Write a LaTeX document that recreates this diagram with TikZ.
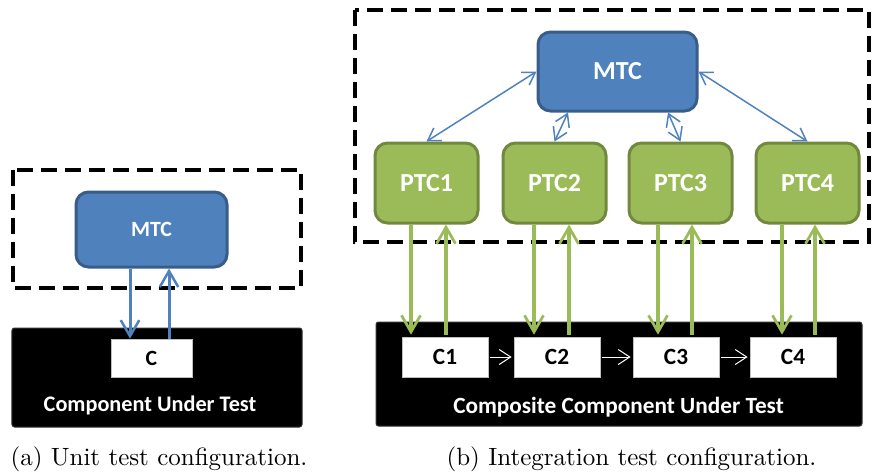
\documentclass[tikz,border=0pt]{standalone}
\usepackage{fontspec}
\newfontfamily\carl{Carlito}
\usetikzlibrary{arrows.meta,calc}
\definecolor{mtcfill}{HTML}{4F81BD}
\definecolor{mtcline}{HTML}{385D8A}
\definecolor{ptcfill}{HTML}{9BBB59}
\definecolor{ptcline}{HTML}{71893F}
\begin{document}
\begin{tikzpicture}[x=0.4pt,y=-0.4pt,
  dashbox/.style={draw=black, line width=1.6pt, dash pattern=on 6.4pt off 3.2pt},
  mtcbox/.style={draw=mtcline, fill=mtcfill, line width=1.2pt, rounded corners=5pt,
     text=white, inner sep=0pt},
  ptcbox/.style={draw=ptcline, fill=ptcfill, line width=1.2pt, rounded corners=5pt,
     text=white, inner sep=0pt, minimum width=41.2pt, minimum height=32pt,
     font=\carl\bfseries\fontsize{10.4}{12}\selectfont},
  cutbox/.style={draw=black!80, fill=black, line width=0.4pt, rounded corners=1pt, inner sep=0pt},
  compbox/.style={draw=black!25, fill=white, line width=0.3pt, inner sep=0pt, text=black},
  cutlabel/.style={text=white, inner sep=0pt},
  bluearr/.style={draw=mtcfill, line width=1.2pt, -{Straight Barb[length=6.4pt,width=7.4pt,line width=1pt]}},
  greenarr/.style={draw=ptcfill, line width=1.4pt, -{Straight Barb[length=6.6pt,width=7.6pt,line width=1.1pt]}},
  thinarr/.style={draw=mtcfill, line width=0.6pt, {Straight Barb[length=4.8pt,width=6pt]}-{Straight Barb[length=4.8pt,width=6pt]}},
  whitearr/.style={draw=white, line width=0.4pt, -{Straight Barb[length=4.6pt,width=6pt]}, shorten <=0.8pt, shorten >=0.8pt},
  caption/.style={anchor=base, inner sep=0pt, font=\fontsize{10}{12}\selectfont}
]
\useasboundingbox (0,0) rectangle (872,475);

% ---------------- (a) unit test ----------------
\draw[dashbox] (13,170) rectangle (301,288);
\node[mtcbox, minimum width=60.4pt, minimum height=30pt,
      font=\carl\bfseries\fontsize{8.7}{10}\selectfont] (mtcA) at (151.5,229.5) {MTC};
\node[cutbox, minimum width=116pt, minimum height=39.6pt] (cutA) at (157,377.5) {};
\node[compbox, minimum width=32.4pt, minimum height=15.2pt,
      font=\carl\bfseries\fontsize{8.7}{10}\selectfont] (cA) at (151.5,358) {C};
\node[cutlabel, font=\carl\bfseries\fontsize{8.9}{10}\selectfont] (labA) at (150,405) {Component Under Test};
\draw[bluearr] ($(mtcA.south)+(-21.5,0)$) -- ($(cA.north)+(-21.5,0)$);
\draw[bluearr] ($(cA.north)+(17.5,0)$) -- ($(mtcA.south)+(17.5,0)$);
\node[caption] (capA) at (159,465) {(a) Unit test configuration.};

% ---------------- (b) integration test ----------------
\draw[dashbox] (355,10) rectangle (869,242);
\node[mtcbox, minimum width=63.6pt, minimum height=31.6pt,
      font=\carl\bfseries\fontsize{10.4}{12}\selectfont] (mtcB) at (617.5,71.5) {MTC};
\node[ptcbox] (ptc1) at (426.5,183) {PTC1};
\node[ptcbox] (ptc2) at (554.5,183) {PTC2};
\node[ptcbox] (ptc3) at (680.5,183) {PTC3};
\node[ptcbox] (ptc4) at (807.5,183) {PTC4};

\draw[thinarr] (mtcB.west) -- (ptc1.north);
\draw[thinarr] ($(mtcB.south)+(-49.5,0)$) -- (ptc2.north);
\draw[thinarr] ($(mtcB.south)+(50.5,0)$) -- (ptc3.north);
\draw[thinarr] (mtcB.east) -- (ptc4.north);

\node[cutbox, minimum width=194.4pt, minimum height=41.6pt] (cutB) at (619,374) {};
\foreach \i/\x in {1/445,2/557,3/676,4/793}{
  \node[compbox, minimum width=34.4pt, minimum height=16pt,
        font=\carl\bfseries\fontsize{9.3}{11}\selectfont] (c\i) at (\x,357) {C\i};
}
\node[cutlabel, font=\carl\bfseries\fontsize{9.3}{11}\selectfont] (labB) at (618.5,407) {Composite Component Under Test};

\draw[whitearr] (c1.east) -- (c2.west);
\draw[whitearr] (c2.east) -- (c3.west);
\draw[whitearr] (c3.east) -- (c4.west);

% green connectors
\coordinate (g1d) at (411,0);  \coordinate (g1u) at (446,0);
\coordinate (g2d) at (534,0);  \coordinate (g2u) at (569,0);
\coordinate (g3d) at (658,0);  \coordinate (g3u) at (692,0);
\coordinate (g4d) at (782,0);  \coordinate (g4u) at (815,0);
\draw[greenarr] (ptc1.south -| g1d) -- ($(c1.north -| g1d)+(0,-2)$);
\draw[greenarr] ($(c1.north -| g1u)+(0,-2)$) -- (ptc1.south -| g1u);
\draw[greenarr] (ptc2.south -| g2d) -- ($(c2.north -| g2d)+(0,-2)$);
\draw[greenarr] ($(c2.north -| g2u)+(0,-2)$) -- (ptc2.south -| g2u);
\draw[greenarr] (ptc3.south -| g3d) -- ($(c3.north -| g3d)+(0,-2)$);
\draw[greenarr] ($(c3.north -| g3u)+(0,-2)$) -- (ptc3.south -| g3u);
\draw[greenarr] (ptc4.south -| g4d) -- ($(c4.north -| g4d)+(0,-2)$);
\draw[greenarr] ($(c4.north -| g4u)+(0,-2)$) -- (ptc4.south -| g4u);

\node[caption] (capB) at (631.5,465) {(b) Integration test configuration.};
\end{tikzpicture}
\end{document}
